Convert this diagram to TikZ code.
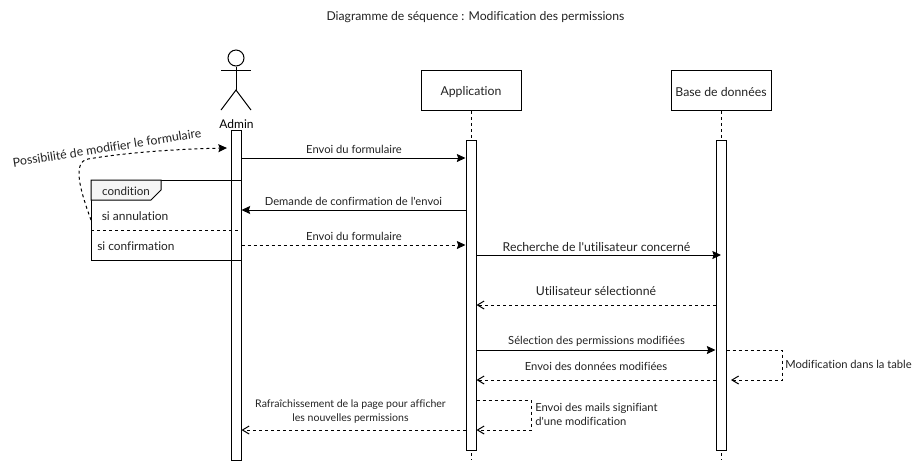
\documentclass[tikz,border=0pt]{standalone}
\usepackage{fontspec}
\setmainfont{Lato}[Ligatures={TeXOff,NoCommon}]
\usetikzlibrary{arrows.meta}
\definecolor{ink}{HTML}{222222}
\tikzset{
  x=0.75pt,y=-0.75pt,
  every node/.style={text=ink,inner sep=0pt},
  small/.style={font=\fontsize{8.4}{10.5}\selectfont,align=center,yshift=-0.5pt},
  big/.style={font=\fontsize{9.2}{11}\selectfont,align=center,yshift=-0.5pt},
  linebox/.style={draw=black,line width=0.75pt,fill=white,minimum width=75pt,minimum height=30pt},
  bar/.style={draw=black,line width=0.75pt,fill=white,minimum width=7.5pt},
  lifeline/.style={line width=0.75pt,dash pattern=on 2.25pt off 2.25pt},
  solidmsg/.style={line width=0.75pt,-{Stealth[length=6.5pt,width=6pt,inset=1pt]}},
  dashmsg/.style={line width=0.75pt,dash pattern=on 2.25pt off 2.25pt,-{Stealth[length=6.5pt,width=6pt,inset=1pt]}},
  retmsg/.style={line width=0.75pt,dash pattern=on 2.25pt off 2.25pt,-{Straight Barb[length=5pt,width=6pt]}},
  frameline/.style={line width=0.75pt,draw=black}
}
\begin{document}
\begin{tikzpicture}
\useasboundingbox (0,0) rectangle (913,462);
\node[small,font=\fontsize{9.15}{10.5}\selectfont] (title) at (475.5,16) {Diagramme de séquence : Modification des permissions};
% actor
\node[draw=black,circle,line width=0.75pt,minimum size=12pt] (head) at (236,58) {};
\coordinate (hip) at (236,90);
\coordinate (armL) at (221,70);
\coordinate (armR) at (251,70);
\coordinate (legL) at (221,110);
\coordinate (legR) at (251,110);
\draw[line width=0.75pt] (head.south) -- (hip);
\draw[line width=0.75pt] (armL) -- (armR);
\draw[line width=0.75pt] (legL) -- (hip) -- (legR);
\node[big,text=black,font=\fontsize{9}{11}\selectfont] (adminlabel) at (236.5,123.5) {Admin};
% lifelines
\node[linebox] (app) at (471,90.5) {};
\node[big] (applabel) at (471,91) {Application};
\node[linebox] (db) at (721,90.5) {};
\node[big] (dblabel) at (721,91) {Base de données};
\coordinate (append) at (471,460);
\coordinate (dbend) at (721,460);
\draw[lifeline] (app.south) -- (append);
\draw[lifeline] (db.south) -- (dbend);
% bars
\node[bar,minimum height=247.5pt] (abar) at (236,295) {};
\node[bar,minimum height=232.5pt] (pbar) at (471,295) {};
\node[bar,minimum height=232.5pt] (dbar) at (721,295) {};
% frame
\coordinate (fTL) at (91,180);
\coordinate (fBL) at (91,260);
\draw[frameline] (abar.east |- fTL) -- (fTL) -- (fBL) -- (abar.east |- fBL);
\coordinate (t1) at (161,180);
\coordinate (t2) at (161,190);
\coordinate (t3) at (151,200);
\coordinate (t4) at (91,200);
\filldraw[frameline,fill=black!4] (fTL) -- (t1) -- (t2) -- (t3) -- (t4) -- cycle;
\node[small,font=\fontsize{8.7}{10.5}\selectfont] (cond) at (126,191) {condition};
\node[small,font=\fontsize{9}{10.5}\selectfont,anchor=west] (annul) at (101.5,215) {si annulation};
\node[small,font=\fontsize{8.9}{10.5}\selectfont,anchor=west] (conf) at (97,246) {si confirmation};
\coordinate (divL) at (91,230);
\coordinate (divR) at (239,230);
\draw[lifeline] (divL) -- (divR);
% curved note
\coordinate (cstart) at (91,220);
\coordinate (cend) at (227,148);
\draw[dashmsg] (cstart) .. controls (80,190) and (72,162) .. (88,159) .. controls (130,152) and (180,149) .. (cend);
\node[small,font=\fontsize{9.25}{11}\selectfont,rotate=9] (possib) at (107,147) {Possibilité de modifier le formulaire};
% messages
\draw[solidmsg] (abar.east |- 0,158) -- (pbar.west |- 0,158);
\node[small] (m1) at (354,149) {Envoi du formulaire};
\draw[solidmsg] (pbar.west |- 0,210) -- (abar.east |- 0,210);
\node[small] (m2) at (353.5,201) {Demande de confirmation de l'envoi};
\draw[dashmsg] (abar.east |- 0,245) -- (pbar.west |- 0,245);
\node[small] (m3) at (354,236) {Envoi du formulaire};
\draw[solidmsg] (pbar.east |- 0,255) -- (dbar.center |- 0,255);
\node[big] (m4) at (596.5,246) {Recherche de l'utilisateur concerné};
\draw[retmsg] (dbar.west |- 0,305) -- (pbar.east |- 0,305);
\node[big] (m5) at (596,290) {Utilisateur sélectionné};
\draw[solidmsg] (pbar.east |- 0,350) -- (dbar.west |- 0,350);
\node[small] (m6) at (596.5,341) {Sélection des permissions modifiées};
\draw[retmsg] (dbar.west |- 0,380) -- (pbar.east |- 0,380);
\node[small] (m7) at (596,366) {Envoi des données modifiées};
\coordinate (sr1) at (782,350);
\coordinate (sr2) at (782,380);
\coordinate (sr3) at (731,380);
\draw[retmsg] (dbar.east |- sr1) -- (sr1) -- (sr2) -- (sr3);
\node[small,anchor=west] (m8) at (785,364) {Modification dans la table};
\coordinate (sp1) at (531,400);
\coordinate (sp2) at (531,430);
\draw[retmsg] (pbar.east |- sp1) -- (sp1) -- (sp2) -- (pbar.east |- sp2);
\node[small,anchor=west,align=left] (m9) at (535,414) {Envoi des mails signifiant\\d'une modification};
\draw[retmsg] (pbar.west |- 0,430) -- (abar.east |- 0,430);
\node[small,font=\fontsize{7.9}{10.5}\selectfont] (m10) at (350.5,410.5) {Rafraîchissement de la page pour afficher\\les nouvelles permissions};
\end{tikzpicture}
\end{document}
